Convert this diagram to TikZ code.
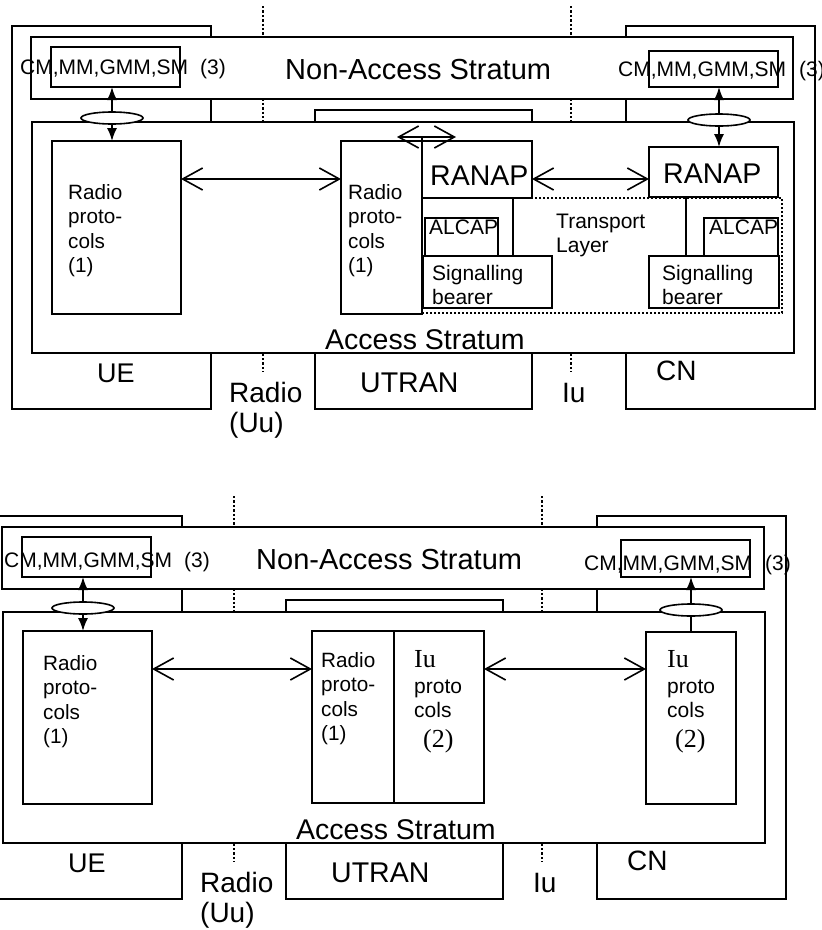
\documentclass[tikz,border=0pt]{standalone}
\usepackage{fontspec}
\setmainfont{Liberation Sans}
\newfontfamily\tmsfont{Liberation Serif}
\usetikzlibrary{arrows.meta}
\usetikzlibrary{shapes.geometric}
\newcommand{\fsz}[2]{\fontsize{#1}{#2}\selectfont}
\tikzset{
  blk/.style={draw, line width=1.6pt, fill=white, rectangle, anchor=north west, inner sep=0pt, outer sep=0pt},
  tlbox/.style={draw, line width=2.2pt, dash pattern=on 2.2pt off 1.8pt, rectangle, anchor=north west, inner sep=0pt, outer sep=0pt},
  lbl/.style={anchor=base west, inner sep=0pt},
  txt/.style={anchor=north west, inner sep=0pt, align=left},
  ln/.style={line width=1.6pt},
  barb/.style={line width=1.6pt, {Straight Barb[length=20pt,width=22pt]}-{Straight Barb[length=20pt,width=22pt]}},
  tri/.style={line width=1.6pt, -{Latex[length=13pt,width=10pt]}},
  sep/.style={line width=2.6pt, dash pattern=on 2.4pt off 2pt},
  sap/.style={ellipse, draw, fill=white, line width=1.6pt, minimum width=62pt, minimum height=12pt, inner sep=0pt}
}

\begin{document}
\begin{tikzpicture}[x=1pt,y=-1pt]
\useasboundingbox (0,0) rectangle (822,930);
\clip (0,0) rectangle (822,930);
% common frame of both pictures
\foreach \dx/\dy/\s in {0/0/a,-29/490/b} {
 \begin{scope}[shift={(\dx,\dy)}]
 \draw[sep] (263,6) -- (263,372);
 \draw[sep] (571,6) -- (571,372);
 \node[blk, minimum width=199pt, minimum height=383pt] (ue\s) at (12,26) {};
 \node[blk, minimum width=217pt, minimum height=299pt] (utran\s) at (315,110) {};
 \node[blk, minimum width=189pt, minimum height=383pt] (cn\s) at (626,26) {};
 \node[blk, minimum width=762pt, minimum height=62pt] (nas\s) at (31,37) {};
 \node[blk, minimum width=762pt, minimum height=231pt] (as\s) at (32,122) {};
 \node[lbl, font=\fsz{29}{30}] (nast\s) at (285,79) {Non-Access Stratum};
 \node[lbl, font=\fsz{28.5}{30}] (ast\s) at (325,349) {Access Stratum};
 \node[lbl, font=\fsz{27}{30}] (uet\s) at (97,382) {UE};
 \node[txt, font=\fsz{28}{30}] (uut\s) at (229,382) {Radio\\(Uu)};
 \node[lbl, font=\fsz{28.5}{30}] (utrant\s) at (360,392) {UTRAN};
 \node[lbl, font=\fsz{28}{30}] (iut\s) at (562,402) {Iu};
 \node[lbl, font=\fsz{28}{30}] (cnt\s) at (656,380) {CN};
 \end{scope}
}

% upper picture
\node[blk, minimum width=129pt, minimum height=40pt] (cmla) at (51,47) {};
\node[lbl, font=\fsz{21}{24}] at (20,74) {CM,MM,GMM,SM\hspace*{12pt}(3)};
\node[blk, minimum width=129pt, minimum height=36pt] (cmra) at (649,51) {};
\node[lbl, font=\fsz{21}{24}] at (618,76) {CM,MM,GMM,SM\hspace*{13pt}(3)};
\node[blk, minimum width=129pt, minimum height=173pt] (rpua) at (52,141) {};
\node[txt, font=\fsz{20.7}{24.5}] at (68,184) {Radio\\proto-\\cols\\(1)};
\node[blk, minimum width=81pt, minimum height=173pt] (rpma) at (341,141) {};
\node[txt, font=\fsz{20.7}{24.5}] at (348,184) {Radio\\proto-\\cols\\(1)};
\node[blk, minimum width=110pt, minimum height=57pt] (ranapla) at (422,141) {};
\node[lbl, font=\fsz{28.5}{30}] at (430,185) {RANAP};
\node[blk, minimum width=129pt, minimum height=50pt] (ranapra) at (649,147) {};
\node[lbl, font=\fsz{28.5}{30}] at (663,183) {RANAP};
\node[blk, minimum width=73pt, minimum height=38pt] (alla) at (425,218) {};
\node[lbl, font=\fsz{21}{24}] at (429,234) {ALCAP};
\node[blk, minimum width=129pt, minimum height=52pt] (sbla) at (423,256) {};
\node[txt, font=\fsz{21}{24}] at (432,265) {Signalling\\bearer};
\node[blk, minimum width=74pt, minimum height=38pt] (alra) at (704,218) {};
\node[lbl, font=\fsz{21}{24}] at (709,234) {ALCAP};
\node[blk, minimum width=130pt, minimum height=52pt] (sbra) at (649,256) {};
\node[txt, font=\fsz{21}{24}] at (662,265) {Signalling\\bearer};
\node[tlbox, minimum width=360pt, minimum height=115pt] (tla) at (422,198) {};
\node[txt, font=\fsz{21}{24}] at (556,214) {Transport\\Layer};
\draw[ln] ([xshift=91pt]ranapla.south west) -- ([xshift=91pt]ranapla.south west |- sbla.north);
\draw[ln] ([xshift=37pt]ranapra.south west) -- ([xshift=37pt]ranapra.south west |- sbra.north);
\node[sap] (sapla) at (112,118) {};
\node[sap] (sapra) at (719,120) {};
\draw[tri] (sapla.north) -- (cmla.south -| sapla);
\draw[tri] (sapla.south) -- (rpua.north -| sapla);
\draw[tri] (sapra.north) -- (cmra.south -| sapra);
\draw[tri] (sapra.south) -- (ranapra.north -| sapra);
\draw[barb] ([yshift=-38pt]rpua.north east) -- ([yshift=-38pt]rpma.north west);
\draw[barb] ([yshift=-38pt]ranapla.north east) -- ([yshift=-32pt]ranapra.north west);
\coordinate (iuca) at (422,137);
\draw[barb] ([xshift=-25pt]iuca) -- ([xshift=34pt]iuca);
\draw[line width=2.4pt] (iuca) -- (ranapla.south west);

% lower picture
\node[blk, minimum width=129pt, minimum height=40pt] (cmlb) at (22,537) {};
\node[lbl, font=\fsz{21}{24}] at (4,567) {CM,MM,GMM,SM\hspace*{12pt}(3)};
\node[blk, minimum width=129pt, minimum height=37pt] (cmrb) at (621,540) {};
\node[lbl, font=\fsz{21}{24}] at (584,570) {CM,MM,GMM,SM\hspace*{13pt}(3)};
\node[blk, minimum width=129pt, minimum height=173pt] (rpub) at (23,631) {};
\node[txt, font=\fsz{20.7}{24.5}] at (43,655) {Radio\\proto-\\cols\\(1)};
\node[blk, minimum width=172pt, minimum height=172pt] (mbb) at (312,631) {};
\draw[ln] ([xshift=82pt]mbb.north west) -- ([xshift=82pt]mbb.south west);
\node[txt, font=\fsz{20.7}{24.5}] at (321,652) {Radio\\proto-\\cols\\(1)};
\node[txt, font=\fsz{21}{24.5}] at (414,650) {{\tmsfont\fsz{26}{24.5}Iu}\\[1.5pt]proto\\cols\\[5.5pt]\hspace*{9pt}{\tmsfont\fsz{26}{24.5}(2)}};
\node[blk, minimum width=90pt, minimum height=172pt] (iurb) at (646,632) {};
\node[txt, font=\fsz{21}{24.5}] at (667,650) {{\tmsfont\fsz{26}{24.5}Iu}\\[1.5pt]proto\\cols\\[5.5pt]\hspace*{8pt}{\tmsfont\fsz{26}{24.5}(2)}};
\node[sap] (saplb) at (83,608) {};
\node[sap] (saprb) at (691,610) {};
\draw[tri] (saplb.north) -- (cmlb.south -| saplb);
\draw[tri] (saplb.south) -- (rpub.north -| saplb);
\draw[tri] (saprb.north) -- (cmrb.south -| saprb);
\draw[ln] (saprb.south) -- (iurb.north -| saprb);
\draw[barb] ([yshift=-38pt]rpub.north east) -- ([yshift=-38pt]mbb.north west);
\draw[barb] ([yshift=-38pt]mbb.north east) -- ([yshift=-37pt]iurb.north west);
\end{tikzpicture}
\end{document}
